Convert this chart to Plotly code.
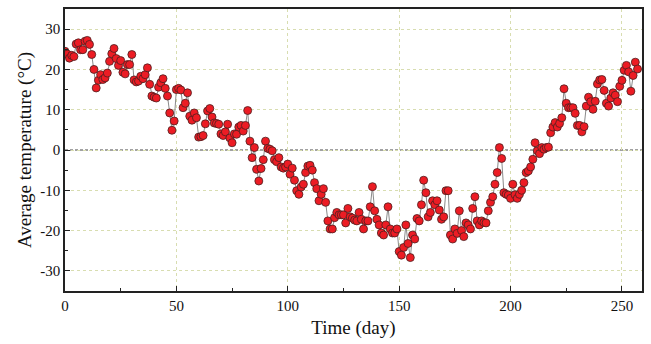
import plotly.graph_objects as go

# Daily mean air temperature, one reading per day
days = list(range(0, 258))

temp_0_49 = [
    24.5, 23.8, 22.8, 23.5, 23.2, 26.3, 26.6, 24.9, 24.9, 27.0,
    27.2, 26.2, 23.7, 20.0, 15.4, 17.3, 18.7, 17.5, 17.9, 19.1,
    22.0, 23.9, 25.2, 22.7, 21.0, 22.2, 19.3, 18.9, 21.2, 21.2,
    23.7, 17.4, 16.9, 17.1, 18.3, 17.7, 18.7, 20.4, 16.3, 13.4,
    13.1, 12.9, 15.6, 16.7, 17.7, 15.3, 13.4, 9.2, 4.9, 7.2,
]
temp_50_99 = [
    15.0, 15.3, 14.9, 10.5, 11.6, 14.2, 8.4, 7.4, 9.2, 8.0,
    3.2, 3.3, 3.6, 6.5, 9.7, 10.3, 8.2, 6.7, 6.6, 6.4,
    4.0, 3.6, 4.5, 6.4, 3.0, 1.8, 4.0, 3.9, 5.7, 6.1,
    4.7, 6.1, 9.8, 2.2, -1.9, 0.6, -4.8, -7.7, -4.6, -2.4,
    2.2, 0.4, 0.2, -0.2, -2.4, -2.9, -1.9, -4.2, -4.5, -4.2,
]
temp_100_149 = [
    -3.5, -6.0, -4.5, -7.5, -10.1, -11.0, -9.2, -8.5, -5.6, -4.0,
    -3.8, -5.0, -8.1, -9.6, -12.6, -11.0, -9.6, -13.0, -17.6, -19.6,
    -19.6, -16.8, -15.5, -16.1, -16.1, -16.1, -18.1, -14.5, -16.6, -16.9,
    -17.4, -17.6, -15.5, -17.2, -19.6, -17.6, -17.6, -14.1, -9.1, -15.1,
    -17.2, -18.6, -20.6, -21.1, -18.6, -14.1, -19.6, -20.6, -20.6, -19.6,
]
temp_150_199 = [
    -25.2, -26.1, -24.2, -18.6, -23.2, -26.7, -21.1, -22.1, -17.0, -17.6,
    -13.6, -7.5, -10.6, -16.6, -15.5, -12.6, -13.6, -12.6, -14.9, -17.2,
    -16.6, -10.1, -10.1, -21.1, -22.1, -19.6, -20.7, -15.1, -20.0, -21.5,
    -18.1, -18.6, -19.6, -14.5, -11.6, -17.6, -18.6, -17.6, -18.0, -18.1,
    -15.1, -13.0, -11.6, -8.5, -5.6, 0.6, -2.1, -10.6, -11.0, -11.2,
]
temp_200_257 = [
    -12.0, -8.5, -11.1, -12.0, -11.0, -10.0, -8.1, -5.6, -5.2, -4.2,
    -2.3, 1.8, -0.2, -0.9, 0.6, 0.2, 0.6, 0.7, 4.3, 5.7,
    6.8, 5.7, 6.6, 8.0, 15.2, 11.6, 10.5, 10.5, 10.5, 9.1,
    6.1, 6.1, 4.5, 5.8, 10.9, 13.1, 12.0, 10.1, 12.1, 16.4,
    17.4, 17.5, 14.8, 11.6, 10.9, 12.9, 14.2, 13.6, 12.0, 15.8,
    17.3, 19.8, 21.0, 19.4, 14.6, 18.5, 21.8, 20.1,
]
temperature = temp_0_49 + temp_50_99 + temp_100_149 + temp_150_199 + temp_200_257

x_ticks = [0, 50, 100, 150, 200, 250]
y_ticks = [-30, -20, -10, 0, 10, 20, 30]
y_tick_text = ["-30", "-20", "-10", "0", "10", "20", "30"]

FONT = "Liberation Serif, Times New Roman, serif"
GRID = "#d8ddb0"

fig = go.Figure()

fig.add_trace(go.Scatter(
    x=days,
    y=temperature,
    mode="lines+markers",
    line=dict(color="#8a8a8a", width=1),
    marker=dict(size=8, color="#ec1c24",
                line=dict(color="#4a2020", width=0.8)),
    showlegend=False,
))

# dashed reference line at 0 °C
fig.add_shape(type="line", xref="paper", yref="y",
              x0=0, x1=1, y0=0, y1=0,
              line=dict(color="#444444", width=1, dash="3px,2px"),
              layer="below")

axis_common = dict(
    showline=True, linecolor="#222222", linewidth=1.5, mirror=True,
    ticks="inside", ticklen=5, tickwidth=1, tickcolor="#222222",
    showgrid=True, gridcolor=GRID, gridwidth=1, griddash="dot",
    zeroline=False,
    tickfont=dict(family=FONT, size=15, color="#111111"),
)

fig.update_xaxes(
    range=[0, 259], tickvals=x_ticks,
    minor=dict(ticks="inside", ticklen=3, tickcolor="#222222", dtick=25,
               tick0=0, showgrid=False),
    title=dict(text="Time (day)", font=dict(family=FONT, size=19, color="#111111"),
               standoff=8),
    **axis_common,
)
fig.update_yaxes(
    range=[-35, 35], tickvals=y_ticks, ticktext=y_tick_text,
    minor=dict(ticks="inside", ticklen=3, tickcolor="#222222", dtick=5,
               tick0=0, showgrid=False),
    title=dict(text="Average temperature (°C)",
               font=dict(family=FONT, size=19, color="#111111"), standoff=4),
    **axis_common,
)

fig.update_layout(
    width=651, height=344,
    margin=dict(l=65, r=9, t=7, b=53),
    paper_bgcolor="white", plot_bgcolor="white",
    font=dict(family=FONT),
)

fig.write_html("out.html")
